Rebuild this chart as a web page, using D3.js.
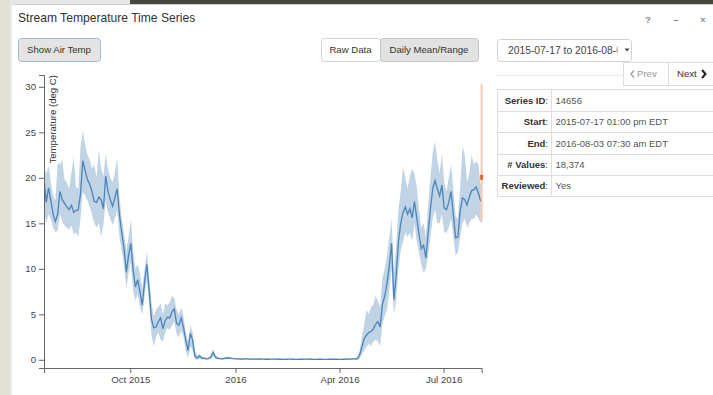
<!DOCTYPE html>
<html>
<head>
<meta charset="utf-8">
<script src="https://cdn.jsdelivr.net/npm/d3@7"></script>
<style>
  html, body { margin: 0; padding: 0; background: #fff; }
  svg { display: block; font-family: "Liberation Sans", Arial, sans-serif; }
</style>
</head>
<body>
<div id="chart"></div>
<script>
// daily summaries, one reading every 2 days starting at startDate
var startDate = '2015-07-17T12:00:00';
var stepDays = 2;

var meanTemp = [
    20.0, 17.3, 18.9, 17.5, 16.0, 15.2, 16.0, 18.5, 17.6, 17.2,
    16.8, 16.5, 17.0, 16.2, 16.4, 16.5, 18.3, 21.9, 20.8, 19.8,
    19.3, 18.5, 17.4, 17.3, 17.9, 17.6, 16.6, 20.2, 18.5, 17.6,
    16.9, 17.8, 18.8, 16.0, 14.0, 12.3, 9.6, 11.5, 12.8, 9.8,
    8.0, 8.8, 7.4, 6.0, 8.6, 10.5, 7.6, 4.5, 3.5, 3.6,
    4.2, 4.6, 3.4, 4.3, 4.7, 4.6, 5.3, 5.6, 4.0, 3.8,
    4.6, 3.6, 2.2, 1.0, 2.9, 2.2, 0.4, 0.2, 0.4, 0.2,
    0.15, 0.1, 0.12, 0.3, 0.8, 0.3, 0.15, 0.12, 0.1, 0.15,
    0.2, 0.2, 0.15, 0.12, 0.1, 0.1, 0.08, 0.08, 0.1, 0.1,
    0.08, 0.07, 0.07, 0.08, 0.1, 0.08, 0.07, 0.06, 0.06, 0.07,
    0.08, 0.08, 0.07, 0.06, 0.06, 0.05, 0.06, 0.07, 0.07, 0.06,
    0.05, 0.05, 0.06, 0.06, 0.07, 0.08, 0.07, 0.06, 0.05, 0.05,
    0.06, 0.06, 0.05, 0.05, 0.05, 0.06, 0.06, 0.07, 0.06, 0.05,
    0.05, 0.06, 0.07, 0.08, 0.08, 0.1, 0.1, 0.1, 0.5, 1.4,
    2.3, 2.7, 3.0, 3.1, 3.4, 3.9, 4.2, 3.6, 6.1, 7.0,
    8.4, 10.3, 12.8, 6.6, 9.2, 13.0, 15.0, 16.2, 16.8, 16.0,
    16.6, 15.6, 17.4, 15.6, 13.8, 12.2, 12.6, 11.2, 14.0, 16.6,
    18.8, 19.7, 18.8, 18.0, 19.2, 16.7, 16.5, 17.3, 18.5, 16.0,
    13.4, 13.5, 16.4, 17.8, 17.6, 17.0, 17.9, 18.6, 18.7, 19.0,
    18.3, 17.4
];

var minTemp = [
    16.5, 15.0, 16.0, 15.5, 14.5, 14.0, 14.2, 16.0, 15.2, 14.8,
    14.5, 14.3, 14.8, 13.8, 14.0, 13.5, 15.5, 18.5, 18.0, 17.5,
    16.8, 16.0, 15.0, 14.5, 15.0, 13.5, 14.8, 17.5, 16.2, 15.5,
    14.8, 15.5, 16.5, 13.5, 12.0, 10.5, 7.8, 9.5, 10.8, 7.5,
    6.5, 7.2, 5.8, 5.0, 7.0, 8.8, 6.0, 2.8, 1.5, 2.5,
    3.0, 2.2, 2.0, 3.0, 3.5, 3.3, 3.8, 4.2, 2.8, 2.5,
    3.2, 2.5, 1.0, 0.2, 1.5, 1.0, 0.0, 0.0, 0.1, 0.0,
    0.05, 0.03, 0.05, 0.1, 0.4, 0.1, 0.05, 0.05, 0.03, 0.05,
    0.1, 0.1, 0.05, 0.05, 0.03, 0.03, 0.02, 0.02, 0.03, 0.03,
    0.02, 0.02, 0.02, 0.02, 0.03, 0.02, 0.02, 0.01, 0.01, 0.02,
    0.02, 0.02, 0.02, 0.01, 0.01, 0.0, 0.01, 0.02, 0.02, 0.01,
    0.0, 0.0, 0.01, 0.01, 0.02, 0.02, 0.02, 0.01, 0.0, 0.0,
    0.01, 0.01, 0.0, 0.0, 0.0, 0.01, 0.01, 0.02, 0.01, 0.0,
    0.0, 0.01, 0.02, 0.02, 0.02, 0.03, 0.03, 0.0, 0.1, 0.6,
    1.0, 1.4, 1.8, 1.5, 2.0, 2.2, 2.0, 1.5, 4.0, 4.8,
    5.5, 7.5, 10.0, 5.0, 6.5, 10.0, 12.0, 13.0, 14.0, 13.5,
    14.0, 13.0, 15.0, 13.0, 11.8, 10.5, 9.5, 10.0, 11.5, 13.5,
    15.5, 16.5, 15.0, 15.0, 16.0, 14.0, 14.0, 14.5, 15.5, 13.5,
    11.5, 11.8, 13.5, 15.0, 15.5, 14.5, 15.0, 15.5, 15.5, 16.0,
    15.5, 15.0
];

var maxTemp = [
    21.0, 20.5, 21.3, 19.5, 18.0, 17.5, 21.6, 21.5, 22.0, 19.8,
    19.5, 18.8, 20.5, 22.3, 19.0, 18.8, 23.4, 25.2, 23.6, 22.5,
    22.0, 21.0, 21.5, 20.0, 23.1, 21.0, 20.2, 22.6, 21.0, 20.0,
    19.5, 20.5, 22.2, 18.0, 15.5, 14.0, 12.0, 13.5, 15.4, 12.0,
    10.0, 10.5, 9.5, 7.8, 10.0, 11.8, 9.0, 6.3, 4.8, 5.5,
    5.8, 6.2, 5.0, 6.2, 6.0, 6.3, 7.0, 6.8, 5.5, 5.0,
    5.8, 4.8, 3.0, 2.0, 3.8, 3.0, 1.0, 0.5, 0.7, 0.4,
    0.3, 0.2, 0.25, 0.6, 1.2, 0.5, 0.3, 0.25, 0.2, 0.3,
    0.35, 0.3, 0.25, 0.2, 0.18, 0.18, 0.15, 0.15, 0.18, 0.18,
    0.15, 0.14, 0.13, 0.15, 0.18, 0.15, 0.13, 0.12, 0.12, 0.13,
    0.15, 0.15, 0.13, 0.12, 0.12, 0.1, 0.12, 0.13, 0.13, 0.12,
    0.1, 0.1, 0.12, 0.12, 0.13, 0.15, 0.13, 0.12, 0.1, 0.1,
    0.12, 0.12, 0.1, 0.1, 0.1, 0.12, 0.12, 0.13, 0.12, 0.1,
    0.1, 0.12, 0.14, 0.16, 0.16, 0.2, 0.2, 0.3, 1.0, 2.5,
    3.8, 5.5, 5.0, 5.8, 6.0, 7.0, 6.5, 5.8, 9.0, 10.0,
    11.5, 13.5, 15.5, 9.5, 12.5, 16.5, 18.5, 21.2, 20.0, 18.8,
    20.2, 21.0, 20.5, 19.0, 16.5, 14.5, 15.0, 13.5, 17.0, 20.0,
    22.8, 24.0, 22.0, 20.5, 22.6, 19.5, 18.5, 20.0, 21.5, 18.8,
    15.8, 15.5, 19.0, 23.5, 22.5, 19.5, 20.5, 22.5, 21.5, 21.8,
    21.5, 19.0
];

var yTicks = [0, 5, 10, 15, 20, 25, 30];
var xTickDates = ['2015-10-01', '2016-01-01', '2016-04-01', '2016-07-01'];
var xDomain = ['2015-07-17T13:00:00', '2016-08-03T07:30:00'];
var yDomain = [-0.9, 31.3];

// cursor marker at the right edge
var cursorDate = '2016-08-03T06:00:00';
var cursorRange = [15.2, 30.3];
var cursorValue = 20.0;

var infoLabels = ['Series ID', 'Start', 'End', '# Values', 'Reviewed'];
var infoValues = ['14656', '2015-07-17 01:00 pm EDT', '2016-08-03 07:30 am EDT', '18,374', 'Yes'];

(function(d3) {
    'use strict';

    var W = 713, H = 395;
    var plot = { left: 44, right: 481.7, top: 75, bottom: 368 };

    var parseDay = d3.timeParse('%Y-%m-%d');
    var parseTime = d3.timeParse('%Y-%m-%dT%H:%M:%S');
    var start = parseTime(startDate);

    var data = meanTemp.map(function(m, i) {
        return {
            date: d3.timeDay.offset(start, i * stepDays),
            mean: m,
            min: minTemp[i],
            max: maxTemp[i]
        };
    });

    var svg = d3.select('#chart').append('svg')
        .attr('width', W)
        .attr('height', H);

    // page behind the dialog
    svg.append('rect').attr('width', W).attr('height', H).attr('fill', '#fff');
    svg.append('rect').attr('x', 0).attr('y', 0).attr('width', 10).attr('height', H).attr('fill', '#e2e2d4');
    svg.append('rect').attr('x', 10).attr('y', 0).attr('width', 2).attr('height', H).attr('fill', '#e4e9ef');
    svg.append('rect').attr('x', 12).attr('y', 0).attr('width', 118).attr('height', 4).attr('fill', '#e6e6e6');
    svg.append('rect').attr('x', 130).attr('y', 0).attr('width', W - 130).attr('height', 4).attr('fill', '#46473d');
    svg.append('line').attr('x1', 12).attr('x2', W).attr('y1', 4.5).attr('y2', 4.5).attr('stroke', '#d0d0d0');

    // header
    svg.append('text')
        .attr('x', 18).attr('y', 21.5)
        .attr('fill', '#333')
        .style('font-size', '12.1px')
        .text('Stream Temperature Time Series');

    [['?', 648], ['\u2013', 676], ['\u00d7', 703]].forEach(function(c) {
        svg.append('text')
            .attr('x', c[1]).attr('y', 23)
            .attr('text-anchor', 'middle')
            .attr('fill', '#888')
            .style('font-size', '9px')
            .style('font-weight', 'bold')
            .text(c[0]);
    });

    function button(x, y, w, h, label, fill, stroke, color) {
        var g = svg.append('g');
        g.append('rect')
            .attr('x', x + 0.5).attr('y', y + 0.5)
            .attr('width', w).attr('height', h)
            .attr('rx', 3)
            .attr('fill', fill)
            .attr('stroke', stroke);
        g.append('text')
            .attr('x', x + w / 2).attr('y', y + h / 2 + 3.5)
            .attr('text-anchor', 'middle')
            .attr('fill', color || '#333')
            .style('font-size', '9.6px')
            .text(label);
        return g;
    }

    button(18, 38, 82, 23, 'Show Air Temp', '#e4e4e4', '#9dbbdb');
    button(321, 38, 59, 23, 'Raw Data', '#fff', '#d4d4d4');
    button(380, 38, 98, 23, 'Daily Mean/Range', '#e2e2e2', '#c4c4c4');

    // period select
    svg.append('defs').append('clipPath').attr('id', 'selclip')
        .append('rect').attr('x', 500).attr('y', 38).attr('width', 117.5).attr('height', 24);
    svg.append('rect')
        .attr('x', 497.5).attr('y', 39.5).attr('width', 134).attr('height', 22)
        .attr('rx', 3).attr('fill', '#fff').attr('stroke', '#d0d0d0');
    svg.append('text')
        .attr('x', 508).attr('y', 54)
        .attr('fill', '#444')
        .attr('clip-path', 'url(#selclip)')
        .style('font-size', '10.3px')
        .text('2015-07-17 to 2016-08-03');
    svg.append('path')
        .attr('d', 'M624.5,48.5 L629.5,48.5 L627,51.5 Z')
        .attr('fill', '#444');
    svg.append('line')
        .attr('x1', 497).attr('x2', 623).attr('y1', 75.5).attr('y2', 75.5)
        .attr('stroke', '#e8e8e8');

    // prev / next
    svg.append('rect').attr('x', 623.5).attr('y', 62.5).attr('width', 45).attr('height', 23)
        .attr('fill', '#fff').attr('stroke', '#ddd');
    svg.append('rect').attr('x', 668.5).attr('y', 62.5).attr('width', 50).attr('height', 23)
        .attr('fill', '#fff').attr('stroke', '#ddd');
    svg.append('path').attr('d', 'M634,70.5 L631,74 L634,77.5')
        .attr('fill', 'none').attr('stroke', '#aaa').attr('stroke-width', 1.6);
    svg.append('text').attr('x', 637).attr('y', 77.3).attr('fill', '#999')
        .style('font-size', '9.6px').text('Prev');
    svg.append('text').attr('x', 677).attr('y', 77.3).attr('fill', '#333')
        .style('font-size', '9.6px').text('Next');
    svg.append('path').attr('d', 'M702,70 L705.5,74 L702,78')
        .attr('fill', 'none').attr('stroke', '#222').attr('stroke-width', 2);

    // info table
    var rowH = 21.4, tableTop = 89.5, tableLeft = 497.5, colX = 551.5;
    var table = svg.append('g');
    table.append('rect')
        .attr('x', tableLeft).attr('y', tableTop)
        .attr('width', W - tableLeft + 2).attr('height', rowH * infoLabels.length)
        .attr('fill', '#fff').attr('stroke', '#ddd');
    table.append('line')
        .attr('x1', colX).attr('x2', colX)
        .attr('y1', tableTop).attr('y2', tableTop + rowH * infoLabels.length)
        .attr('stroke', '#ddd');
    infoLabels.forEach(function(label, i) {
        var y = tableTop + rowH * i;
        if (i > 0) {
            table.append('line')
                .attr('x1', tableLeft).attr('x2', W)
                .attr('y1', Math.round(y) + 0.5).attr('y2', Math.round(y) + 0.5)
                .attr('stroke', '#ddd');
        }
        var t = table.append('text')
            .attr('x', 548).attr('y', y + rowH / 2 + 3.5)
            .attr('text-anchor', 'end')
            .attr('fill', '#333')
            .style('font-size', '9.5px');
        t.append('tspan').style('font-weight', 'bold').text(label);
        t.append('tspan').text(':');
        table.append('text')
            .attr('x', 555.5).attr('y', y + rowH / 2 + 3.5)
            .attr('fill', '#555')
            .style('font-size', '9.5px')
            .text(infoValues[i]);
    });

    // chart
    var x = d3.scaleTime()
        .domain(xDomain.map(parseTime))
        .range([plot.left, plot.right]);

    var y = d3.scaleLinear()
        .domain(yDomain)
        .range([plot.bottom, plot.top]);

    svg.select('defs').append('clipPath').attr('id', 'plotclip')
        .append('rect')
        .attr('x', plot.left).attr('y', plot.top)
        .attr('width', plot.right - plot.left + 1).attr('height', plot.bottom - plot.top);

    var area = d3.area()
        .x(function(d) { return x(d.date); })
        .y0(function(d) { return y(d.min); })
        .y1(function(d) { return y(d.max); });

    var line = d3.line()
        .x(function(d) { return x(d.date); })
        .y(function(d) { return y(d.mean); });

    var plotG = svg.append('g').attr('clip-path', 'url(#plotclip)');

    plotG.append('path')
        .datum(data)
        .attr('d', area)
        .attr('fill', 'steelblue')
        .attr('fill-opacity', 0.34);

    plotG.append('path')
        .datum(data)
        .attr('d', line)
        .attr('fill', 'none')
        .attr('stroke', '#4a84b9')
        .attr('stroke-width', 1.3);

    // cursor
    var cx = x(parseTime(cursorDate));
    svg.append('rect')
        .attr('x', cx - 1).attr('y', y(cursorRange[1]))
        .attr('width', 2).attr('height', y(cursorRange[0]) - y(cursorRange[1]))
        .attr('fill', '#f7b59c').attr('fill-opacity', 0.75);
    svg.append('rect')
        .attr('x', cx - 1.5).attr('y', y(cursorValue) - 3)
        .attr('width', 3).attr('height', 5)
        .attr('fill', '#e8632d');

    var fmtMonth = d3.timeFormat('%b %Y');
    var fmtYear = d3.timeFormat('%Y');

    var xAxis = d3.axisBottom(x)
        .tickValues(xTickDates.map(parseDay))
        .tickSize(5)
        .tickFormat(function(d) {
            return d.getMonth() === 0 ? fmtYear(d) : fmtMonth(d);
        });

    var yAxis = d3.axisLeft(y)
        .tickValues(yTicks)
        .tickSize(5);

    var gx = svg.append('g')
        .attr('transform', 'translate(0,' + plot.bottom + ')')
        .call(xAxis);

    var gy = svg.append('g')
        .attr('transform', 'translate(' + plot.left + ',0)')
        .call(yAxis);

    [gx, gy].forEach(function(g) {
        g.selectAll('path, line').attr('stroke', '#666');
        g.selectAll('text')
            .attr('fill', '#444')
            .style('font-family', '"Liberation Sans", Arial, sans-serif')
            .style('font-size', '9.6px');
    });

    gy.append('text')
        .attr('transform', 'rotate(-90)')
        .attr('x', -plot.top)
        .attr('y', 5)
        .attr('dy', '0.71em')
        .attr('fill', '#333')
        .style('text-anchor', 'end')
        .style('font-size', '9.6px')
        .text('Temperature (deg C)');

})(window.d3);
</script>
</body>
</html>
